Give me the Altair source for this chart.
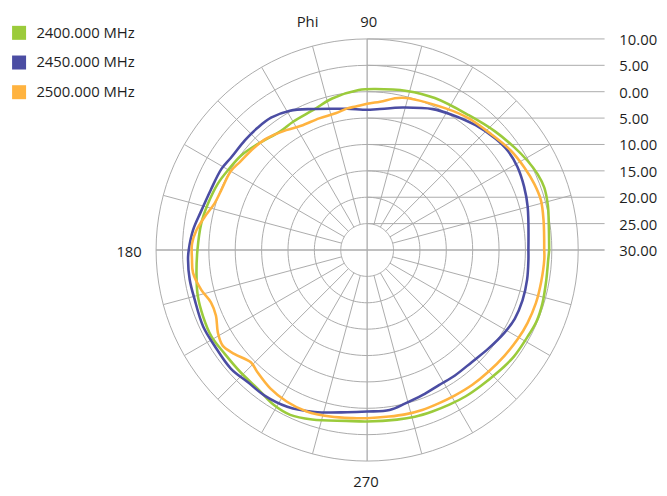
import altair as alt
import pandas as pd

# ---------------- data ----------------
FREQS = ["2400.000 MHz", "2450.000 MHz", "2500.000 MHz"]
COLORS = ["#9BCB3B", "#4B4DA3", "#FFB33F"]

PHI_2400 = [0, 9, 14, 19.5, 24, 29, 35, 43, 53, 66, 76, 87, 93, 103, 111, 120, 126, 136, 143, 150,
            156, 164, 171, 180, 188, 195, 202, 209, 216, 224, 232, 239, 245, 252, 263, 270, 280, 286,
            292, 298, 304, 310, 317, 324, 331, 337, 343, 350, 357]
GAIN_2400 = [4.5, 4.84, 5.29, 5.6, 5.36, 4.8, 4.0, 3.04, 2.0, 1.52, 1.07, 0.56, 0.36, -0.54, -1.56,
             -1.93, -2.14, -1.12, -0.17, 0.39, 0.96, 1.43, 1.84, 2.16, 2.66, 3.24, 3.54, 3.75, 3.4,
             3.35, 3.5, 4.29, 4.48, 3.77, 2.63, 2.49, 2.64, 2.87, 3.0, 3.19, 3.43, 3.58, 3.92, 4.37,
             4.54, 4.84, 4.73, 4.44, 4.37]

PHI_2450 = [0, 15, 22, 29, 35, 41, 49, 58, 65, 76, 86, 90, 98, 102, 111, 119, 126, 132, 138, 146,
            151, 159, 167, 173.5, 180, 183, 189.5, 196, 205, 212, 221, 228, 235, 243, 252, 263, 270,
            278, 284, 291, 298, 305, 313, 321, 329, 335, 342, 349.5, 356.5]
GAIN_2450 = [0.56, 1.5, 2.08, 2.55, 2.63, 2.19, 1.33, 0.24, -0.54, -2.18, -3.26, -3.43, -2.96, -2.63,
             -1.37, 0.19, 0.99, 1.11, 1.13, 1.18, 1.6, 1.75, 2.33, 3.21, 3.81, 3.99, 4.09, 4.01, 4.29,
             4.14, 4.24, 3.75, 3.75, 3.34, 2.27, 0.99, 0.62, 0.6, -0.04, -0.58, -1.01, -0.98, -0.94,
             -0.38, 0.38, 0.86, 0.96, 0.83, 0.62]

PHI_2500 = [0, 9.5, 16, 21.5, 27.5, 34.5, 43, 52.5, 61, 77, 85, 90, 94.5, 98, 103, 110, 118, 124,
            132, 138, 145, 150, 158, 163, 168.5, 173.5, 178, 183, 187.5, 193.5, 198.5, 203.5, 209,
            213.5, 218, 224, 228, 235, 242, 249.5, 257.5, 265, 270, 277.5, 283, 289, 295, 301, 308,
            315, 322.5, 329.5, 335.5, 342.5, 349.5, 357]
GAIN_2500 = [3.56, 3.9, 4.26, 4.07, 3.66, 3.13, 2.16, 1.5, 0.69, -0.38, -1.78, -2.3, -2.72, -2.9,
             -3.41, -3.45, -3.34, -2.59, -1.54, -1.11, -0.71, -0.15, -0.11, 0.23, 1.44, 2.59, 3.21,
             3.24, 3.28, 2.33, 1.22, 1.24, 2.34, 2.83, 1.97, 0.64, 1.11, 2.01, 2.51, 2.68, 2.34,
             1.99, 1.88, 1.84, 1.97, 2.06, 2.06, 2.18, 2.4, 2.57, 2.85, 3.17, 3.39, 3.53, 3.53, 3.62]

RADIAL_TICKS = [10, 5, 0, -5, -10, -15, -20, -25, -30]
RING_VALUES = [10, 5, 0, -5, -10, -15, -20, -25]
SPOKE_ANGLES = list(range(0, 360, 15))
ANGLE_LABELS = ["90", "180", "270"]
AXIS_TITLE = "Phi"

# ---------------- layout (data units of the polar plane) ----------------
R_CENTER = -30
R_INNER = -25
R_OUTER = 10
W, H = 658, 484
K = 5.3333                      # px per dB
X_MIN = -363 / K                # pole at page x = 371
Y_MAX = 242 / K                 # pole at page y = 250
X_DOMAIN = [X_MIN, X_MIN + W / K]
Y_DOMAIN = [Y_MAX - H / K, Y_MAX]
HLINE_END = 45.0
LABEL_X = 47.8
FONT = "Open Sans"
GRID = "#ababab"
TEXT = "#1e1e1e"

xs = alt.Scale(domain=X_DOMAIN, nice=False, zero=False)
ys = alt.Scale(domain=Y_DOMAIN, nice=False, zero=False)
cs = alt.Scale(domain=FREQS, range=COLORS)

# ---------------- tables ----------------
rows = []
for f, phis, gains in zip(FREQS, [PHI_2400, PHI_2450, PHI_2500], [GAIN_2400, GAIN_2450, GAIN_2500]):
    for p, g in zip(phis + [phis[0] + 360], gains + [gains[0]]):
        rows.append({"freq": f, "phi": p, "gain": g})
curves = pd.DataFrame(rows)

ring_rows = [{"ring": v, "phi": a} for v in RING_VALUES for a in range(0, 361, 3)]
rings_df = pd.DataFrame(ring_rows)

spoke_rows = []
for a in SPOKE_ANGLES:
    if a % 90:
        spoke_rows.append({"phi": a, "r1": R_INNER, "r2": R_OUTER, "axis": 0})
    elif a != 0:
        spoke_rows.append({"phi": a, "r1": R_CENTER, "r2": R_OUTER, "axis": 1})
spokes_df = pd.DataFrame(spoke_rows)

hl_df = pd.DataFrame({"v": RADIAL_TICKS})
hl_df["label"] = [f"{abs(v):.2f}" for v in RADIAL_TICKS]

POLAR_X = "(datum.{r} - ({c})) * cos(datum.phi * PI / 180)"
POLAR_Y = "(datum.{r} - ({c})) * sin(datum.phi * PI / 180)"

# ---------------- layers ----------------
rings = alt.Chart(rings_df).transform_calculate(
    px=POLAR_X.format(r="ring", c=R_CENTER),
    py=POLAR_Y.format(r="ring", c=R_CENTER),
).mark_line(color=GRID, strokeWidth=1).encode(
    x=alt.X("px:Q", scale=xs, axis=None),
    y=alt.Y("py:Q", scale=ys, axis=None),
    detail="ring:N",
    order="phi:Q",
)

spokes = alt.Chart(spokes_df).transform_calculate(
    sx=POLAR_X.format(r="r1", c=R_CENTER),
    sy=POLAR_Y.format(r="r1", c=R_CENTER),
    ex=POLAR_X.format(r="r2", c=R_CENTER),
    ey=POLAR_Y.format(r="r2", c=R_CENTER),
).mark_rule(color=GRID).encode(
    x=alt.X("sx:Q", scale=xs, axis=None),
    y=alt.Y("sy:Q", scale=ys, axis=None),
    x2="ex:Q",
    y2="ey:Q",
    strokeWidth=alt.condition("datum.axis == 1", alt.value(1.3), alt.value(1)),
)

hlines = alt.Chart(hl_df).transform_calculate(
    hy=f"datum.v - ({R_CENTER})", hx0="0", hx1=str(HLINE_END)
).mark_rule(color=GRID).encode(
    x=alt.X("hx0:Q", scale=xs, axis=None),
    x2="hx1:Q",
    y=alt.Y("hy:Q", scale=ys, axis=None),
    strokeWidth=alt.condition(f"datum.v == {R_CENTER}", alt.value(1.3), alt.value(1)),
)

rlabels = alt.Chart(hl_df).transform_calculate(
    hy=f"datum.v - ({R_CENTER})", lx=str(LABEL_X)
).mark_text(align="left", baseline="alphabetic", dy=6, font=FONT, fontSize=15, color=TEXT).encode(
    x=alt.X("lx:Q", scale=xs, axis=None),
    y=alt.Y("hy:Q", scale=ys, axis=None),
    text="label:N",
)

top_df = pd.DataFrame({"t": [AXIS_TITLE, ANGLE_LABELS[0], ANGLE_LABELS[2]],
                       "x": [-11.3, 0.3, -0.2], "y": [42.2, 42.2, -45.0]})
toplabels = alt.Chart(top_df).mark_text(
    align="center", baseline="alphabetic", font=FONT, fontSize=15, color=TEXT
).encode(
    x=alt.X("x:Q", scale=xs, axis=None),
    y=alt.Y("y:Q", scale=ys, axis=None),
    text="t:N",
)

left_df = pd.DataFrame({"t": [ANGLE_LABELS[1]], "x": [-42.7], "y": [-1.26]})
leftlabel = alt.Chart(left_df).mark_text(
    align="right", baseline="alphabetic", font=FONT, fontSize=15, color=TEXT
).encode(
    x=alt.X("x:Q", scale=xs, axis=None),
    y=alt.Y("y:Q", scale=ys, axis=None),
    text="t:N",
)

legend_layer = alt.Chart(pd.DataFrame({"freq": FREQS})).transform_filter("false").mark_square(
    filled=True, opacity=1
).encode(
    color=alt.Color(
        "freq:N", scale=cs,
        legend=alt.Legend(
            orient="none", legendX=3.7, legendY=15, title=None, symbolType="square",
            symbolSize=200, symbolStrokeWidth=0, symbolOpacity=1, labelFont=FONT,
            labelFontSize=15, labelColor=TEXT, labelOffset=10, rowPadding=14, padding=0,
            offset=0,
        ),
    ),
)

lines = alt.Chart(curves).transform_calculate(
    px=POLAR_X.format(r="gain", c=R_CENTER),
    py=POLAR_Y.format(r="gain", c=R_CENTER),
).mark_line(interpolate="catmull-rom", strokeWidth=2.6).encode(
    x=alt.X("px:Q", scale=xs, axis=None),
    y=alt.Y("py:Q", scale=ys, axis=None),
    color=alt.Color("freq:N", scale=cs, legend=None),
    detail="freq:N",
    order="phi:Q",
)

chart = alt.layer(
    rings, spokes, hlines, rlabels, toplabels, leftlabel, legend_layer, lines
).properties(
    width=W, height=H, padding=0, background="white",
    autosize=alt.AutoSizeParams(type="none"),
).configure_view(stroke=None)

chart.save("out.html", embed_options={"renderer": "svg", "actions": False})
